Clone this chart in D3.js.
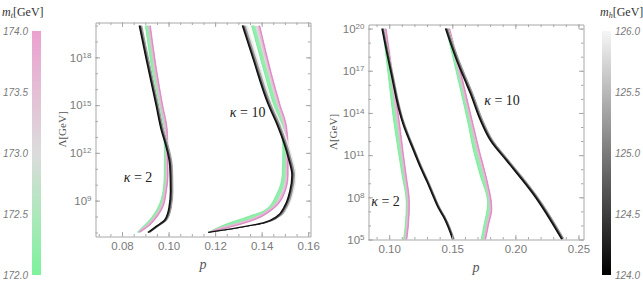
<!DOCTYPE html>
<html>
<head>
<meta charset="utf-8">
<script src="https://cdn.jsdelivr.net/npm/d3@7"></script>
<style>
  body { margin: 0; background: #fff; }
  svg { font-family: "Liberation Serif", "Times New Roman", serif; }
  .axis text { fill: #7a7a7a; font-size: 11.5px; }
  .cb text { fill: #7a7a7a; font-size: 10px; font-style: italic; font-family: "Liberation Sans", Arial, sans-serif; }
</style>
</head>
<body>
<svg id="chart" width="643" height="296"></svg>
<script>
// values: [log10(Lambda/GeV), p]
// left panel
var leftK2_mh124 = [[20,0.0874],[18,0.0902],[15,0.0946],[13.4,0.0969],[12.5,0.0987],[11.2,0.1005],[9.6,0.1008],[8.6,0.1002],[7.8,0.0984],[7.4,0.0948],[7,0.0911]];
var leftK2_mh126 = [[20,0.0888],[18,0.0916],[15,0.0960],[13.4,0.0983],[12.5,0.1001],[11.2,0.1019],[9.6,0.1022],[8.6,0.1015],[7.8,0.0996],[7.4,0.0960],[7,0.0922]];
var leftK2_mt172 = [[20,0.0900],[17.2,0.0928],[15,0.0954],[13.4,0.0976],[12.2,0.0982],[10.6,0.0981],[9.6,0.0976],[8.6,0.0955],[7.8,0.0919],[7.35,0.0889],[7,0.0865]];
var leftK2_mt174 = [[20,0.0922],[17.2,0.0949],[15,0.0975],[13.4,0.0995],[12.2,0.0997],[10.6,0.0998],[9.6,0.0991],[8.6,0.0976],[7.8,0.0941],[7.35,0.0911],[7,0.0876]];
var leftK10_mh124 = [[20,0.1317],[18,0.1361],[15,0.1429],[13.7,0.1468],[11.7,0.1514],[10.6,0.1530],[9.6,0.1521],[8.7,0.1500],[8.0,0.1464],[7.6,0.1406],[7.3,0.1299],[7,0.1170]];
var leftK10_mh126 = [[20,0.1340],[18,0.1383],[15,0.1451],[13.7,0.1489],[11.7,0.1533],[10.6,0.1549],[9.6,0.1540],[8.7,0.1518],[8.0,0.1480],[7.6,0.1420],[7.3,0.1310],[7,0.1175]];
var leftK10_mt172 = [[20,0.1356],[17,0.1412],[15,0.1451],[13.7,0.1480],[12.2,0.1491],[10.6,0.1488],[9.4,0.1464],[8.4,0.1414],[8.0,0.1342],[7.5,0.1242],[7,0.1170]];
var leftK10_mt174 = [[20,0.1392],[17,0.1442],[15,0.1480],[13.7,0.1507],[12.2,0.1514],[10.6,0.1514],[9.25,0.1492],[8.4,0.1443],[7.8,0.1371],[7.35,0.1271],[7,0.1170]];

// right panel
var rightK2_mh124 = [[20,0.0942],[17,0.1010],[13.1,0.1113],[11.3,0.1193],[10.1,0.1248],[9.1,0.1299],[8.0,0.1351],[7.2,0.1391],[6.6,0.1430],[5,0.1503]];
var rightK2_mh126 = [[20,0.0960],[17,0.1028],[13.1,0.1131],[11.3,0.1211],[10.1,0.1266],[9.1,0.1317],[8.0,0.1369],[7.2,0.1409],[6.6,0.1448],[5,0.1521]];
var rightK2_mt172 = [[20,0.0947],[17,0.0988],[13.1,0.1040],[11.3,0.1071],[9.6,0.1101],[7.6,0.1135],[6.0,0.1127],[5,0.1113]];
var rightK2_mt174 = [[20,0.0976],[17,0.1024],[13.1,0.1085],[11.3,0.1110],[9.6,0.1135],[7.6,0.1161],[6.0,0.1153],[5,0.1140]];
var rightK10_mh124 = [[20,0.1446],[17.7,0.1536],[16.3,0.1600],[15.4,0.1642],[13.5,0.1721],[12.0,0.1805],[10.6,0.1930],[8.2,0.2143],[5,0.2368]];
var rightK10_mh126 = [[20,0.1471],[17.7,0.1561],[16.3,0.1625],[15.4,0.1667],[13.5,0.1746],[12.0,0.1830],[10.6,0.1955],[8.2,0.2168],[5,0.2393]];
var rightK10_mt172 = [[20,0.1450],[17,0.1529],[13.1,0.1628],[11.3,0.1668],[9.55,0.1721],[7.6,0.1780],[6.0,0.1750],[5,0.1728]];
var rightK10_mt174 = [[20,0.1480],[17,0.1565],[13.1,0.1668],[11.3,0.1716],[9.3,0.1774],[7.2,0.1814],[6.0,0.1787],[5,0.1765]];

// ticks
var leftXMajor = [0.08, 0.10, 0.12, 0.14, 0.16];
var leftYMajor = [9, 12, 15, 18];
var rightXMajor = [0.10, 0.15, 0.20, 0.25];
var rightYMajor = [5, 8, 11, 14, 17, 20];
var mtTicks = [172.0, 172.5, 173.0, 173.5, 174.0];
var mhTicks = [124.0, 124.5, 125.0, 125.5, 126.0];

var svg = d3.select("#chart");
var defs = svg.append("defs");

var mtColor = d3.scaleLinear().domain([172, 173, 174]).range(["#7df29c", "#dcdcdc", "#eba1cf"]);
var mhColor = d3.scaleLinear().domain([124, 126]).range(["#000000", "#f6f6f6"]);

/* colour bars */
function colorbar(id, x, domain, ticks, color, labelLeft, titleX, sub) {
    var y = d3.scaleLinear().domain(domain).range([275, 31]);
    var grad = defs.append("linearGradient").attr("id", id)
        .attr("x1", 0).attr("y1", 1).attr("x2", 0).attr("y2", 0);
    d3.range(0, 1.0001, 0.05).forEach(function(t) {
        grad.append("stop").attr("offset", t)
            .attr("stop-color", color(domain[0] + t * (domain[1] - domain[0])));
    });
    var g = svg.append("g").attr("class", "cb");
    g.append("rect").attr("x", x).attr("y", 31).attr("width", 9).attr("height", 244)
        .attr("fill", "url(#" + id + ")");
    g.selectAll(".lab").data(ticks).enter().append("text")
        .attr("x", labelLeft ? x - 4 : x + 13)
        .attr("y", function(d) { return y(d); })
        .attr("dy", "0.35em")
        .attr("text-anchor", labelLeft ? "end" : "start")
        .text(function(d) { return d.toFixed(1); });
    var t = svg.append("text").attr("x", titleX).attr("y", 16)
        .attr("font-size", "12px").attr("fill", "#333");
    t.append("tspan").attr("font-style", "italic").text("m");
    t.append("tspan").attr("font-style", "italic").attr("font-size", "8px").attr("dy", "2").text(sub);
    t.append("tspan").attr("dy", "-2").text("[GeV]");
}
colorbar("gradMt", 32, [172, 174], mtTicks, mtColor, true, 2, "t");
colorbar("gradMh", 602, [124, 126], mhTicks, mhColor, false, 600, "h");

/* bands */
var clipId = 0;
function band(g, x, y, lo, hi, kind) {
    var line = d3.line()
        .x(function(d) { return x(d[1]); })
        .y(function(d) { return y(d[0]); })
        .curve(d3.curveMonotoneY);
    var outline = line(lo) + line(hi.slice().reverse()).replace(/^M/, "L") + "Z";
    var id = "clip" + (clipId++);
    defs.append("clipPath").attr("id", id).append("path").attr("d", outline);
    var inner = g.append("g").attr("clip-path", "url(#" + id + ")");
    var strokes;
    if (kind === "mt") {
        inner.append("path").attr("d", outline).attr("fill", mtColor(173));
        strokes = [[lo, mtColor(172), 7, 0.75], [lo, "#8ff0ab", 3, 1], [hi, "#eab6d8", 5, 0.9], [hi, "#e08fc5", 2, 1]];
    } else {
        inner.append("path").attr("d", outline).attr("fill", "#d4d4d4");
        strokes = [[hi, "#eeeeee", 3, 1], [lo, "#8a8a8a", 6, 0.8], [lo, "#333", 3, 1]];
    }
    strokes.forEach(function(s) {
        inner.append("path").attr("d", line(s[0])).attr("fill", "none")
            .attr("stroke", s[1]).attr("stroke-width", s[2]).attr("stroke-opacity", s[3]);
    });
    if (kind === "mt") {
        g.append("path").attr("d", line(lo)).attr("fill", "none").attr("stroke", "#74e894").attr("stroke-width", 0.6);
        g.append("path").attr("d", line(hi)).attr("fill", "none").attr("stroke", "#d985bf").attr("stroke-width", 0.7);
    } else {
        g.append("path").attr("d", line(lo)).attr("fill", "none").attr("stroke", "#111").attr("stroke-width", 1.3);
    }
}

/* panels */
function panel(cfg) {
    var x = d3.scaleLinear().domain(cfg.xDomain).range(cfg.xRange);
    var y = d3.scaleLinear().domain(cfg.yDomain).range(cfg.yRange);
    var g = svg.append("g");

    cfg.bands.forEach(function(b) { band(g, x, y, b[0], b[1], b[2]); });

    var axes = [
        [d3.axisBottom(x), "translate(0," + cfg.yRange[0] + ")", true, false],
        [d3.axisTop(x), "translate(0," + cfg.yRange[1] + ")", false, false],
        [d3.axisLeft(y), "translate(" + cfg.xRange[0] + ",0)", true, true],
        [d3.axisRight(y), "translate(" + cfg.xRange[1] + ",0)", false, true]
    ];
    axes.forEach(function(a) {
        var vertical = a[3];
        var minor = vertical ? cfg.yMinor : cfg.xMinor;
        var major = vertical ? cfg.yMajor : cfg.xMajor;
        var gm = g.append("g").attr("class", "axis").attr("color", "#a8a8a8").attr("transform", a[1]);
        gm.call(a[0].tickValues(minor).tickSize(-2.5).tickSizeOuter(0).tickFormat(""));
        var gM = g.append("g").attr("class", "axis").attr("color", "#a8a8a8").attr("transform", a[1]);
        gM.call(a[0].tickValues(major).tickSize(-4.5).tickSizeOuter(0).tickPadding(a[2] ? (vertical ? 4 : 5) : 0)
            .tickFormat(a[2] ? (vertical ? function(d) { return d; } : d3.format(".2f")) : ""));
        gM.select(".domain").remove();
        if (a[2] && vertical) {
            gM.selectAll(".tick text").each(function(d) {
                var t = d3.select(this);
                t.text(null);
                t.append("tspan").text("10");
                t.append("tspan").attr("dy", "-0.45em").attr("font-size", "8px").text(d);
            });
        }
    });

    svg.append("text").attr("x", (cfg.xRange[0] + cfg.xRange[1]) / 2).attr("y", cfg.yRange[0] + 32)
        .attr("text-anchor", "middle").attr("font-style", "italic").attr("font-size", "14px")
        .attr("fill", "#555").text("p");
    svg.append("text")
        .attr("transform", "translate(" + cfg.lambdaX + "," + (cfg.yRange[0] + cfg.yRange[1]) / 2 + ") rotate(-90)")
        .attr("text-anchor", "middle").attr("font-size", "11px").attr("fill", "#555").text("Λ[GeV]");

    cfg.labels.forEach(function(l) {
        var t = svg.append("text").attr("x", x(l[1])).attr("y", y(l[0]))
            .attr("font-size", "14px").attr("fill", "#222");
        t.append("tspan").attr("font-style", "italic").text("κ");
        t.append("tspan").text(" = " + l[2]);
    });
}

panel({
    xDomain: [0.0686, 0.161], xRange: [95.5, 310.5],
    yDomain: [6.745, 20.192], yRange: [236.5, 22.5],
    xMajor: leftXMajor, xMinor: d3.range(0.07, 0.1601, 0.005),
    yMajor: leftYMajor, yMinor: d3.range(7, 21, 1),
    lambdaX: 66,
    bands: [
        [leftK2_mt172, leftK2_mt174, "mt"], [leftK10_mt172, leftK10_mt174, "mt"],
        [leftK2_mh124, leftK2_mh126, "mh"], [leftK10_mh124, leftK10_mh126, "mh"]
    ],
    labels: [[14.24, 0.1263, 10], [10.17, 0.0807, 2]]
});

panel({
    xDomain: [0.0836, 0.254], xRange: [368.5, 583.5],
    yDomain: [5, 20.29], yRange: [239.5, 24.5],
    xMajor: rightXMajor, xMinor: d3.range(0.09, 0.2501, 0.01),
    yMajor: rightYMajor, yMinor: d3.range(5, 21, 1),
    lambdaX: 337,
    bands: [
        [rightK2_mt172, rightK2_mt174, "mt"], [rightK10_mt172, rightK10_mt174, "mt"],
        [rightK2_mh124, rightK2_mh126, "mh"], [rightK10_mh124, rightK10_mh126, "mh"]
    ],
    labels: [[14.6, 0.1753, 10], [7.41, 0.0857, 2]]
});
</script>
</body>
</html>
